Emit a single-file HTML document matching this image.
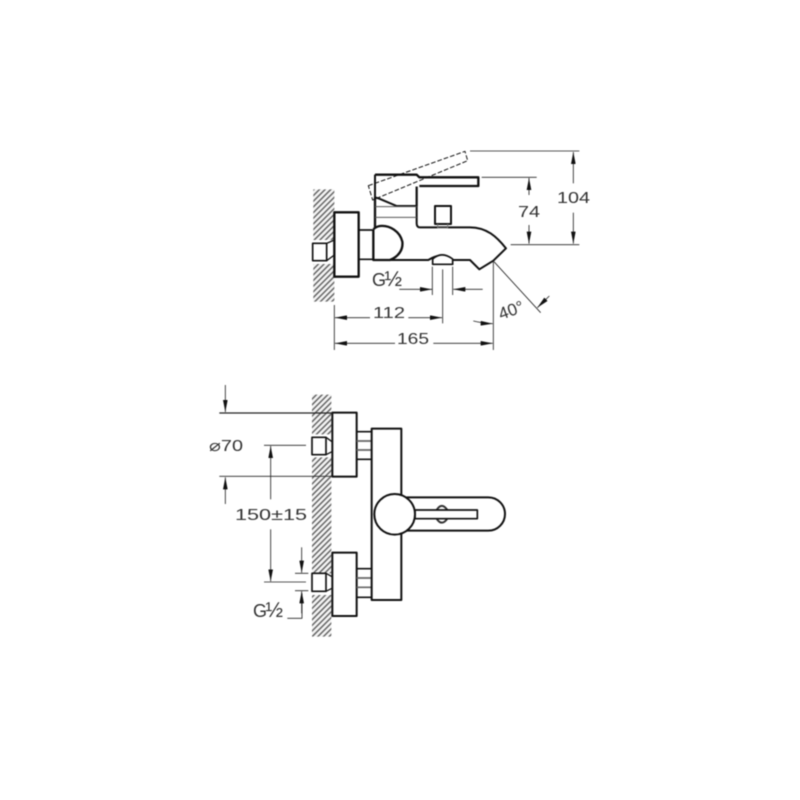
<!DOCTYPE html>
<html><head><meta charset="utf-8"><style>
html,body{margin:0;padding:0;background:#fff}
svg{display:block;filter:blur(.4px)}
text{font-family:"Liberation Sans",sans-serif;fill:#333}
</style></head><body>
<svg width="800" height="800" viewBox="0 0 800 800" xmlns="http://www.w3.org/2000/svg">
<defs>
<pattern id="h" width="12" height="12" patternUnits="userSpaceOnUse" patternTransform="rotate(45)">
<rect width="12" height="12" fill="#f4f4f4"/><rect width="4.5" height="12" fill="#666"/>
</pattern>
<marker id="a" viewBox="0 0 36 14" markerWidth="36" markerHeight="14" refX="36" refY="7" orient="auto" markerUnits="userSpaceOnUse"><path d="M0 0L36 7L0 14Z" fill="#111"/></marker>
</defs>

<g transform="translate(300 140) scale(.33333)" fill="none" stroke="#111" stroke-linecap="butt" stroke-linejoin="round">
<path d="M40 148H103V300H40ZM40 372H103V485H40Z" fill="url(#h)" stroke="none"/>
<rect x="38" y="310" width="42" height="52" fill="#fff" stroke-width="5"/>
<path d="M80 310L103 300M80 362L103 345" stroke-width="4"/>
<rect x="103" y="217" width="73" height="193" fill="#fff" stroke-width="7"/>
<path d="M176 270H218M176 358H218" stroke-width="5"/>
<path d="M220 268V360H270C295 350 310 330 307 305C300 275 270 255 240 258Q228 260 220 268" fill="#fff" stroke-width="7"/>
<path d="M270 360H385Q425 335 450 360H510L538 388L580 362L618 325C590 290 560 262 510 262H360Q350 262 350 250V140" stroke-width="6"/>
<path d="M398 373V357Q425 332 458 357V373Z" fill="#fff" stroke-width="5"/>
<rect x="405" y="198" width="48" height="54" fill="#fff" stroke-width="6"/>
<path d="M413 252V264H443V252" stroke-width="3" stroke="#777"/>
<path d="M225 262V172M225 104H350L358 112H535V138H358" stroke-width="7"/>
<path d="M225 104V172L238 176L290 198H350V140" stroke-width="6"/>
<path d="M225 200H350M225 232H350" stroke-width="3" stroke="#555"/>
<path d="M205 137L495 34L503 62L218 180Z" stroke-width="3" stroke-dasharray="14 6"/>
<g stroke="#222" stroke-width="2.5">
<path d="M510 33H838M545 112H710M632 314H838"/>
<path d="M820 130V36" marker-end="url(#a)"/>
<path d="M820 218V311" marker-end="url(#a)"/>
<path d="M687 165V114" marker-end="url(#a)"/>
<path d="M687 255V311" marker-end="url(#a)"/>
<path d="M397 380V465M458 380V465M428 388V550M580 365V630M103 495V630"/>
<path d="M298 448H396" marker-end="url(#a)"/>
<path d="M548 448H460" marker-end="url(#a)"/>
<path d="M210 533H105" marker-end="url(#a)"/>
<path d="M325 533H426" marker-end="url(#a)"/>
<path d="M285 610H105" marker-end="url(#a)"/>
<path d="M400 610H578" marker-end="url(#a)"/>
<path d="M582 365L722 518"/>
<path d="M520 543Q550 550 578 551" marker-end="url(#a)"/>
<path d="M748 468L712 503" marker-end="url(#a)"/>
</g>
</g>

<g font-size="16">
<text x="372" y="286" font-size="18" letter-spacing="-1.5">G<tspan font-size="21">½</tspan></text>
<text x="373" y="318" textLength="32" lengthAdjust="spacingAndGlyphs">112</text>
<text x="397" y="344" textLength="32" lengthAdjust="spacingAndGlyphs">165</text>
<text x="518" y="217" textLength="22" lengthAdjust="spacingAndGlyphs">74</text>
<text x="557" y="203" textLength="33" lengthAdjust="spacingAndGlyphs">104</text>
<text transform="translate(501 320) rotate(-20)" font-size="17">40°</text>
<text x="209" y="451" textLength="34" lengthAdjust="spacingAndGlyphs">⌀70</text>
<text x="235" y="520" textLength="72" lengthAdjust="spacingAndGlyphs">150±15</text>
<text x="253" y="617" font-size="18" letter-spacing="-1.5">G<tspan font-size="21">½</tspan></text>
</g>

<g transform="translate(200 380) scale(.33333)" fill="none" stroke="#111" stroke-linejoin="round">
<path d="M336 44H394V163H336ZM336 232H394V580H336ZM336 645H394V770H336Z" fill="url(#h)" stroke="none"/>
<rect x="336" y="172" width="42" height="52" fill="#fff" stroke-width="5"/>
<path d="M378 172L396 185M378 224L396 215" stroke-width="4"/>
<rect x="336" y="580" width="42" height="54" fill="#fff" stroke-width="5"/>
<path d="M378 580L396 590M378 634L396 625" stroke-width="4"/>
<rect x="397" y="98" width="73" height="192" fill="#fff" stroke-width="6"/>
<rect x="397" y="518" width="73" height="190" fill="#fff" stroke-width="6"/>
<path d="M470 155H516M470 238H516M470 566H516M470 652H516" stroke-width="5"/>
<path d="M470 183H516M470 210H516M470 594H516M470 622H516" stroke-width="5" stroke="#666"/>
<rect x="515" y="146" width="89" height="514" fill="#fff" stroke-width="6"/>
<path d="M620 352H865A50 50 0 0 1 865 452H620" fill="#fff" stroke-width="6"/>
<path d="M710 390Q725 365 742 390M710 416Q725 440 742 416" stroke-width="6" stroke="#333"/>
<rect x="645" y="390" width="187" height="26" fill="#fff" stroke-width="5"/>
<circle cx="584" cy="403" r="61" fill="#fff" stroke-width="6"/>
<g stroke="#222" stroke-width="2.5">
<path d="M58 99H397" stroke-width="4"/>
<path d="M58 289H397M192 196H318M192 606H318M285 580H325M285 632H325M262 715H306V640"/>
<path d="M76 15V96" marker-end="url(#a)"/>
<path d="M76 372V292" marker-end="url(#a)"/>
<path d="M212 358V198" marker-end="url(#a)"/>
<path d="M212 448V604" marker-end="url(#a)"/>
<path d="M305 502V578" marker-end="url(#a)"/>
<path d="M305 700V634" marker-end="url(#a)"/>
</g>
</g>
</svg>
</body></html>
